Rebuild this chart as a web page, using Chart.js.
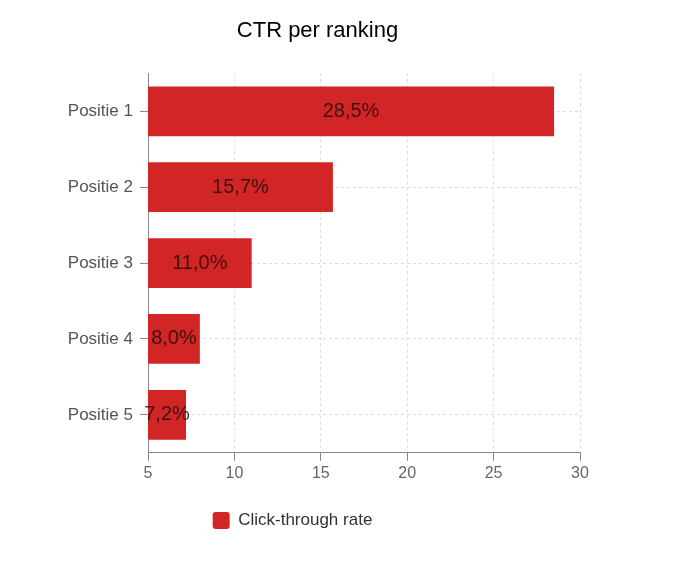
<!DOCTYPE html>
<html>
<head>
<meta charset="utf-8">
<script src="https://cdn.jsdelivr.net/npm/chart.js@4/dist/chart.umd.min.js"></script>
<style>
  html,body{margin:0;padding:0;background:#fff;}
  #wrap{width:677px;height:580px;}
</style>
</head>
<body>
<div id="wrap"><canvas id="c"></canvas></div>
<script>
const categories = ['Positie 1', 'Positie 2', 'Positie 3', 'Positie 4', 'Positie 5'];
const ctrValues = [28.5, 15.7, 11.0, 8.0, 7.2];
const ctrLabels = ['28,5%', '15,7%', '11,0%', '8,0%', '7,2%'];
const xTicks = [5, 10, 15, 20, 25, 30];
const seriesName = 'Click-through rate';
const chartTitle = 'CTR per ranking';

const FONT = "'Liberation Sans', Arial, sans-serif";

const barLabels = {
  id: 'barLabels',
  afterDatasetsDraw(chart) {
    const ctx = chart.ctx;
    const meta = chart.getDatasetMeta(0);
    ctx.save();
    ctx.font = '20px ' + FONT;
    ctx.fillStyle = 'rgba(40,10,10,0.85)';
    ctx.textAlign = 'center';
    ctx.textBaseline = 'middle';
    meta.data.forEach((bar, i) => {
      const left = Math.max(bar.base, chart.chartArea.left);
      const cx = (bar.x + left) / 2;
      ctx.fillText(ctrLabels[i], cx, bar.y);
    });
    ctx.restore();
  }
};

const legendShift = {
  id: 'legendShift',
  afterLayout(chart) {
    const lg = chart.legend;
    if (lg) { lg.left -= 25; lg.right -= 25; }
  }
};

new Chart(document.getElementById('c'), {
  type: 'bar',
  data: {
    labels: categories,
    datasets: [{
      label: seriesName,
      data: ctrValues,
      backgroundColor: '#d22626',
      borderWidth: 0,
      categoryPercentage: 0.8,
      barPercentage: 0.82
    }]
  },
  options: {
    indexAxis: 'y',
    responsive: true,
    maintainAspectRatio: false,
    animation: false,
    layout: { padding: { left: 55, right: 97, top: 0, bottom: 41 } },
    plugins: {
      title: {
        display: true,
        text: chartTitle,
        color: '#000',
        font: { family: FONT, size: 22, weight: 'normal' },
        padding: { top: 18, bottom: 29 }
      },
      legend: {
        position: 'bottom',
        labels: {
          color: '#333',
          font: { family: FONT, size: 17 },
          boxWidth: 17,
          boxHeight: 17,
          useBorderRadius: true,
          borderRadius: 3,
          padding: 10
        }
      },
      tooltip: { enabled: false }
    },
    scales: {
      x: {
        min: 5,
        max: 30,
        afterBuildTicks(axis) { axis.ticks = xTicks.map(v => ({ value: v })); },
        afterFit(axis) { axis.height += 16; },
        ticks: { color: '#666', font: { family: FONT, size: 16 }, padding: 3 },
        grid: { color: '#dcdcdc', tickColor: '#888', tickLength: 8 },
        border: { color: '#888', dash: [3, 3] }
      },
      y: {
        afterFit(axis) { axis.width = 93; },
        ticks: { color: '#555', font: { family: FONT, size: 17 }, padding: 7 },
        grid: { offset: false, color: '#dcdcdc', tickColor: '#888', tickLength: 8 },
        border: { color: '#888', dash: [3, 3] }
      }
    }
  },
  plugins: [barLabels, legendShift]
});
</script>
</body>
</html>
